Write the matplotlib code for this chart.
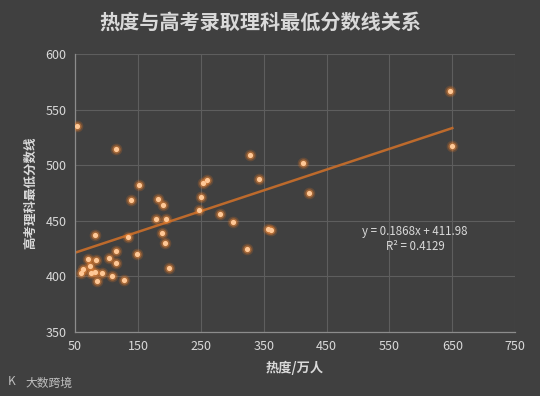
import numpy as np
import matplotlib
matplotlib.use("Agg")
import matplotlib.pyplot as plt

plt.rcParams['font.family'] = ['Noto Sans CJK SC', 'DejaVu Sans']

# 热度 (万人) vs 高考理科最低分数线
heat = [53, 115, 152, 139, 182, 190, 179, 195, 188, 193, 134, 115, 104, 115, 149, 200,
        250, 247, 254, 260, 329, 343, 281, 301, 357, 362, 324, 413, 422, 647, 650,
        81, 70, 84, 73, 63, 60, 76, 81, 93, 109, 128, 85]
score = [535, 515, 482, 469, 470, 464, 452, 452, 439, 430, 435, 423, 417, 412, 420, 408,
         471, 460, 484, 487, 509, 488, 456, 449, 443, 442, 425, 502, 475, 567, 517,
         437, 416, 415, 409, 407, 403, 403, 404, 403, 400, 397, 396]

slope = 0.1868
intercept = 411.98
r2 = 0.4129

bg = '#404040'
txt = '#d9d9d9'

fig = plt.figure(figsize=(5.4, 3.96), dpi=100, facecolor=bg)
ax = fig.add_axes([0.139, 0.1616, 0.815, 0.702], facecolor=bg)

# trend line
xs = np.array([min(heat), max(heat)])
ax.plot(xs, slope * xs + intercept, color='#bd6a2c', lw=1.8, zorder=2)

# glowing points
ax.scatter(heat, score, s=70, color='#e8741e', alpha=0.22, linewidths=0, zorder=3)
ax.scatter(heat, score, s=36, color='#ef8a3a', alpha=0.45, linewidths=0, zorder=3)
ax.scatter(heat, score, s=14, color='#ffc896', linewidths=0, zorder=4)

ax.text(591, 440, f'y = {slope}x + {intercept}', color=txt, fontsize=8.3,
        ha='center', va='center')
ax.text(591, 427, f'R² = {r2}', color=txt, fontsize=8.3, ha='center', va='center')

ax.set_xlim(50, 750)
ax.set_ylim(350, 600)
ax.set_xticks(range(50, 751, 100))
ax.set_yticks(range(350, 601, 50))
ax.grid(True, color='#5e5e5e', lw=0.8)
ax.set_axisbelow(True)
ax.tick_params(length=0, colors=txt, labelsize=9, pad=6)
for side in ['top', 'right']:
    ax.spines[side].set_visible(False)
for side in ['left', 'bottom']:
    ax.spines[side].set_color('#8c8c8c')
    ax.spines[side].set_linewidth(0.9)

ax.set_xlabel('热度/万人', color=txt, fontsize=9.5, fontweight='bold', labelpad=5)
ax.set_ylabel('高考理科最低分数线', color=txt, fontsize=9, fontweight='bold', labelpad=6)

fig.text(0.482, 0.943, '热度与高考录取理科最低分数线关系', color=txt, fontsize=14.5,
         fontweight='bold', ha='center', va='center')
fig.text(0.048, 0.033, '大数跨境', color='#bfbfbf', fontsize=8.5, ha='left', va='center')
fig.text(0.015, 0.036, 'K', color='#bfbfbf', fontsize=8.5, ha='left', va='center')

fig.savefig('out.png', dpi=100, facecolor=bg)
